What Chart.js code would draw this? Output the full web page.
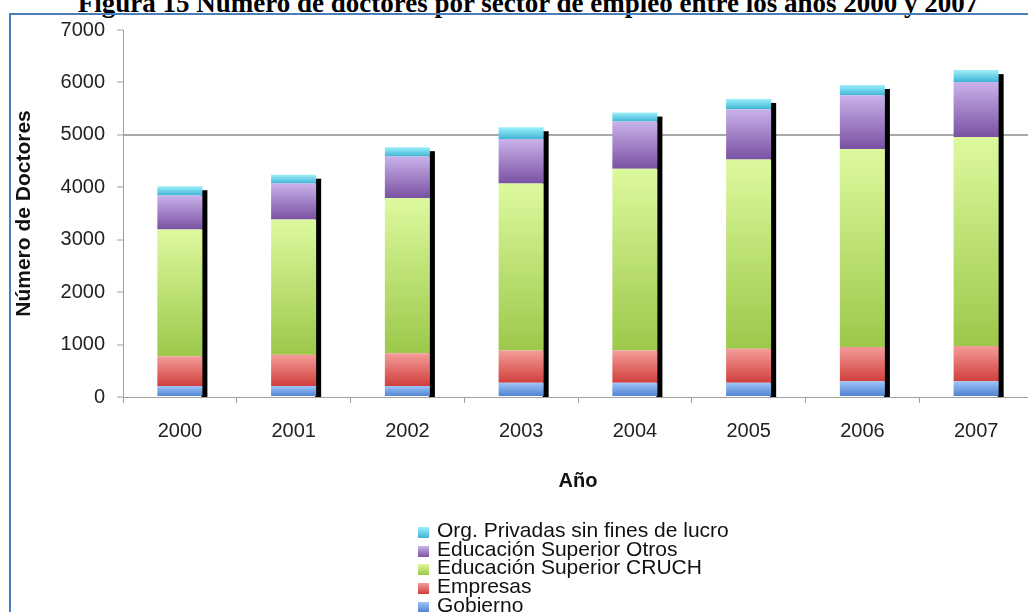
<!DOCTYPE html>
<html>
<head>
<meta charset="utf-8">
<script src="https://cdn.jsdelivr.net/npm/chart.js@4/dist/chart.umd.min.js"></script>
<style>
  html, body { margin: 0; padding: 0; background: #fff; overflow: hidden; width: 1028px; height: 612px; }
  #titulo { position: absolute; left: 0; width: 1056px; top: -10px; text-align: center;
            font: bold 27px "Liberation Serif", "Times New Roman", serif; line-height: 27px; color: #000; white-space: nowrap; }
  #marco { position: absolute; left: 9px; top: 13px; width: 1100px; height: 700px;
           border-left: 2px solid #4a7ebb; border-top: 2px solid #4a7ebb; }
  #wrap { position: absolute; left: 0; top: 0; width: 1040px; height: 612px; }
  #leyenda { position: absolute; left: 418px; top: 521px; font: 21px "Liberation Sans", Arial, sans-serif; color: #111; }
  #leyenda div { height: 18.7px; line-height: 18.7px; white-space: nowrap; }
  #leyenda span.box { display: inline-block; width: 11px; height: 11px; margin-right: 8px; vertical-align: -1px; }
</style>
</head>
<body>
<div id="titulo">Figura 15 Número de doctores por sector de empleo entre los años 2000 y 2007</div>
<div id="marco"></div>
<div id="wrap"><canvas id="myChart" width="1040" height="612"></canvas></div>
<div id="leyenda"></div>
<script>
// categorias y series (numero de doctores por sector)
var anios = ['2000', '2001', '2002', '2003', '2004', '2005', '2006', '2007'];
var gobierno = [210, 210, 210, 270, 270, 270, 300, 300];
var empresas = [565, 595, 625, 615, 615, 650, 655, 675];
var cruch = [2420, 2580, 2960, 3185, 3470, 3610, 3775, 3985];
var otros = [650, 685, 790, 850, 900, 960, 1025, 1050];
var privadas = [175, 170, 180, 225, 170, 195, 195, 225];
var yTicks = [0, 1000, 2000, 3000, 4000, 5000, 6000, 7000];

var series = [
    { label: 'Gobierno', data: gobierno, top: '#9ec4f6', bottom: '#4a7ecf' },
    { label: 'Empresas', data: empresas, top: '#f49c99', bottom: '#d03f3c' },
    { label: 'Educación Superior CRUCH', data: cruch, top: '#ddf99e', bottom: '#9cc84a' },
    { label: 'Educación Superior Otros', data: otros, top: '#c9b2ea', bottom: '#7a51a2' },
    { label: 'Org. Privadas sin fines de lucro', data: privadas, top: '#9cf0fb', bottom: '#40b4d5' }
];

// gradiente vertical por segmento, calculado con la escala y
function gradiente(top, bottom) {
    return function(c) {
        var ch = c.chart, ys = ch.scales.y;
        if (c.type !== 'data' || !ys) return bottom;
        var i = c.dataIndex, start = 0;
        for (var k = 0; k < c.datasetIndex; k++) start += series[k].data[i];
        var end = start + series[c.datasetIndex].data[i];
        var y0 = ys.getPixelForValue(start), y1 = ys.getPixelForValue(end);
        if (!isFinite(y0) || !isFinite(y1) || y0 === y1) return bottom;
        var g = ch.ctx.createLinearGradient(0, y1, 0, y0);
        g.addColorStop(0, top);
        g.addColorStop(1, bottom);
        return g;
    };
}

// sombra negra a la derecha de cada columna
var sombra = {
    id: 'sombra',
    beforeDatasetsDraw: function(chart) {
        var ctx = chart.ctx;
        var last = chart.getDatasetMeta(series.length - 1);
        var base = chart.scales.y.getPixelForValue(0);
        ctx.save();
        ctx.fillStyle = '#000';
        last.data.forEach(function(el) {
            var right = el.x + el.width / 2;
            ctx.fillRect(right - 1, el.y + 4, 6, base - el.y - 4);
        });
        ctx.restore();
    }
};

var ctx = document.getElementById('myChart').getContext('2d');
var chart = new Chart(ctx, {
    type: 'bar',
    data: {
        labels: anios,
        datasets: series.map(function(s) {
            return {
                label: s.label,
                data: s.data,
                backgroundColor: gradiente(s.top, s.bottom),
                borderWidth: 0,
                categoryPercentage: 1,
                barPercentage: 0.396
            };
        })
    },
    plugins: [sombra],
    options: {
        responsive: false,
        animation: false,
        layout: { padding: { left: 12, top: 30, right: 7, bottom: 119 } },
        plugins: {
            legend: { display: false },
            tooltip: { enabled: false }
        },
        scales: {
            x: {
                stacked: true,
                grid: { drawOnChartArea: false, tickLength: 6, tickColor: '#a0a0a0', offset: true },
                border: { color: '#a0a0a0' },
                ticks: { color: '#222', padding: 16, font: { family: 'Liberation Sans, Arial', size: 20 } },
                title: {
                    display: true, text: 'Año', color: '#111',
                    font: { family: 'Liberation Sans, Arial', size: 20, weight: 'bold' },
                    padding: { top: 10, bottom: 0 }
                }
            },
            y: {
                stacked: true,
                min: 0,
                max: 7000,
                afterBuildTicks: function(s) { s.ticks = yTicks.map(function(v) { return { value: v }; }); },
                afterFit: function(s) { s.width = 111; },
                grid: {
                    color: function(c) { return c.tick && c.tick.value === 5000 ? '#a8a8a8' : 'rgba(0,0,0,0)'; },
                    lineWidth: 2,
                    tickLength: 6,
                    tickColor: '#a0a0a0',
                    tickWidth: 1
                },
                border: { color: '#a0a0a0' },
                ticks: {
                    color: '#222', padding: 12,
                    font: { family: 'Liberation Sans, Arial', size: 20 },
                    callback: function(v) { return String(v); }
                },
                title: {
                    display: true, text: 'Número de Doctores', color: '#111',
                    font: { family: 'Liberation Sans, Arial', size: 21, weight: 'bold' },
                    padding: 0
                }
            }
        }
    }
});

// leyenda vertical (orden inverso, como la original)
var ley = document.getElementById('leyenda');
series.slice().reverse().forEach(function(s) {
    var d = document.createElement('div');
    var b = document.createElement('span');
    b.className = 'box';
    b.style.background = 'linear-gradient(' + s.top + ',' + s.bottom + ')';
    d.appendChild(b);
    d.appendChild(document.createTextNode(s.label));
    ley.appendChild(d);
});
</script>
</body>
</html>
